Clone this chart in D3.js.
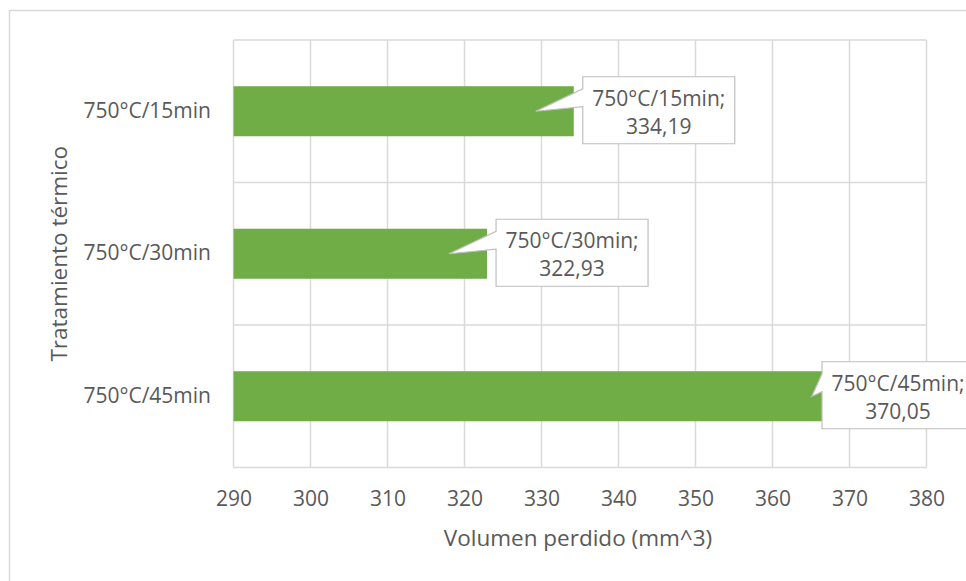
<!DOCTYPE html>
<html>
<head>
<meta charset="utf-8">
<script src="https://cdn.jsdelivr.net/npm/d3@7"></script>
<style>
  html, body { margin: 0; padding: 0; background: #fff; }
  svg { display: block; font-family: "Open Sans", "Noto Sans", sans-serif; }
</style>
</head>
<body>
<svg id="chart" width="966" height="581"></svg>
<script>
// Volumen perdido por tratamiento térmico
const categories = ["750°C/15min", "750°C/30min", "750°C/45min"];
const values = [334.19, 322.93, 370.05];
const valueLabels = ["334,19", "322,93", "370,05"];
const xTicks = [290, 300, 310, 320, 330, 340, 350, 360, 370, 380];
const xTitle = "Volumen perdido (mm^3)";
const yTitle = "Tratamiento térmico";

const W = 966, H = 581;
const plot = { left: 233.5, right: 926.5, top: 40, bottom: 467.5 };
const textColor = "#595959";
const gridColor = "#d9d9d9";
const barColor = "#70ad47";

const svg = d3.select("#chart");

// chart frame
svg.append("rect")
  .attr("x", 9.5).attr("y", 10.5)
  .attr("width", W + 20).attr("height", H + 20)
  .attr("fill", "#fff").attr("stroke", gridColor).attr("stroke-width", 1.5);

const x = d3.scaleLinear().domain([290, 380]).range([plot.left, plot.right]);
const y = d3.scaleBand().domain(categories)
  .range([plot.top, plot.bottom])
  .paddingInner(0.649).paddingOuter(0.3245);

// vertical gridlines
svg.append("g").selectAll("line").data(xTicks).join("line")
  .attr("x1", d => x(d)).attr("x2", d => x(d))
  .attr("y1", plot.top).attr("y2", plot.bottom)
  .attr("stroke", gridColor).attr("stroke-width", 1.5);

// horizontal gridlines at category boundaries
const step = y.step();
const bounds = d3.range(categories.length + 1).map(i => plot.top + i * step);
svg.append("g").selectAll("line").data(bounds).join("line")
  .attr("x1", plot.left).attr("x2", plot.right)
  .attr("y1", d => d).attr("y2", d => d)
  .attr("stroke", gridColor).attr("stroke-width", 1.5);

// bars
svg.append("g").selectAll("rect").data(categories).join("rect")
  .attr("x", x(290))
  .attr("y", d => y(d))
  .attr("width", (d, i) => x(values[i]) - x(290))
  .attr("height", y.bandwidth())
  .attr("fill", barColor);

// x axis
const xAxis = svg.append("g")
  .attr("transform", `translate(0,${plot.bottom})`)
  .call(d3.axisBottom(x).tickValues(xTicks).tickFormat(d3.format("d")).tickSize(0).tickPadding(23.5));
xAxis.select(".domain").remove();
xAxis.selectAll("text")
  .attr("fill", textColor).style("font-size", "21px")
  .style("font-family", "'Open Sans', sans-serif");

// y axis
const yAxis = svg.append("g")
  .attr("transform", `translate(${plot.left},0)`)
  .call(d3.axisLeft(y).tickSize(0).tickPadding(22.5));
yAxis.select(".domain").remove();
yAxis.selectAll("text")
  .attr("fill", textColor).style("font-size", "21px")
  .style("font-family", "'Open Sans', sans-serif");

// axis titles
svg.append("text")
  .attr("x", (plot.left + plot.right) / 2 - 2).attr("y", 546)
  .attr("text-anchor", "middle")
  .attr("fill", textColor).style("font-size", "22.5px")
  .text(xTitle);

svg.append("text")
  .attr("transform", `translate(67,${(plot.top + plot.bottom) / 2}) rotate(-90)`)
  .attr("text-anchor", "middle")
  .attr("fill", textColor).style("font-size", "22.5px")
  .text(yTitle);

// callout data labels
const boxW = 152, boxH = 67;
const maxBoxLeft = 822;
const callouts = svg.append("g");
categories.forEach((c, i) => {
  const end = x(values[i]);
  const yc = y(c) + y.bandwidth() / 2;
  const left = Math.min(end + 9, maxBoxLeft);
  const top = yc - boxH / 2 - 1;
  const tipX = end - 38, tipY = yc;
  const b1 = top + 12, b2 = top + 30;
  const path = [
    [left, top], [left + boxW, top], [left + boxW, top + boxH], [left, top + boxH],
    [left, b2], [tipX, tipY], [left, b1]
  ];
  callouts.append("path")
    .attr("d", d3.line()(path) + "Z")
    .attr("fill", "#fff").attr("stroke", "#bfbfbf").attr("stroke-width", 1.2);
  const t = callouts.append("text")
    .attr("text-anchor", "middle")
    .attr("fill", textColor).style("font-size", "21px");
  t.append("tspan").attr("x", left + boxW / 2).attr("y", top + 29).text(c + ";");
  t.append("tspan").attr("x", left + boxW / 2).attr("y", top + 57).text(valueLabels[i]);
});
</script>
</body>
</html>
